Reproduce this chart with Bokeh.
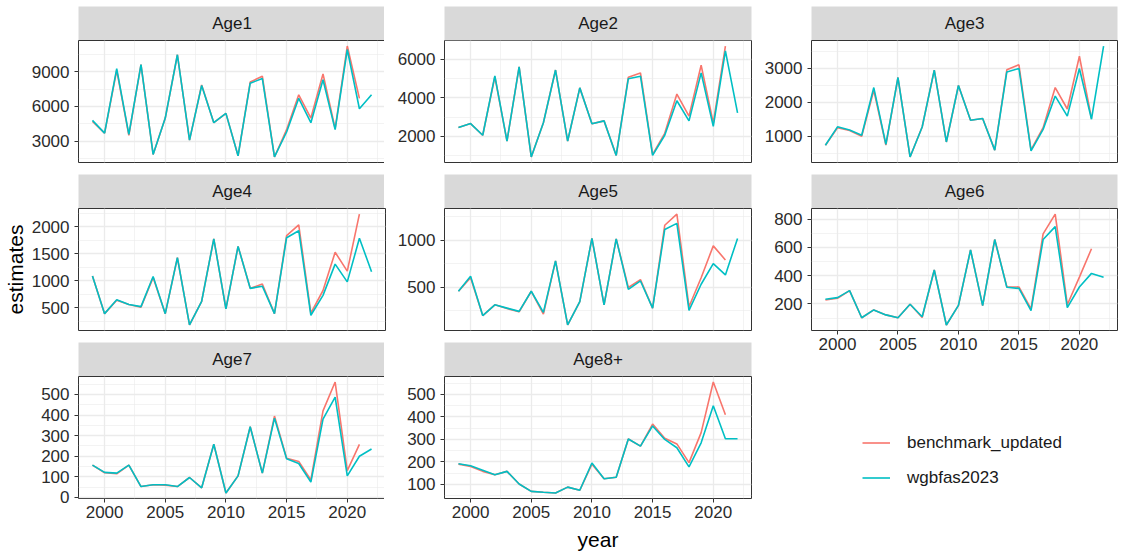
from bokeh.plotting import figure
from bokeh.models import Range1d, FixedTicker, Label, Legend, LegendItem, Spacer
from bokeh.layouts import column, row
from bokeh.embed import file_html
from bokeh.resources import INLINE

# ---------------- data ----------------
years = list(range(1999, 2023))
years_bm = years[:-1]

ages = ["Age1", "Age2", "Age3", "Age4", "Age5", "Age6", "Age7", "Age8+"]

wg_age1 = [4800, 3700, 9250, 3600, 9600, 1870, 5000, 10450, 3100, 7800, 4600, 5400, 1750, 8000, 8400, 1650, 3800, 6700, 4600, 8300, 4000, 10900, 5800, 7000]
bm_age1 = [4700, 3700, 9100, 3500, 9600, 1870, 5000, 10450, 3100, 7850, 4600, 5400, 1750, 8100, 8600, 1650, 4000, 7000, 5000, 8800, 4100, 11200, 6700]

wg_age2 = [2450, 2660, 2050, 5150, 1750, 5620, 920, 2700, 5450, 1750, 4520, 2650, 2800, 1000, 5000, 5130, 1000, 2050, 3850, 2800, 5300, 2520, 6450, 3220]
bm_age2 = [2450, 2660, 2050, 5100, 1750, 5620, 920, 2700, 5450, 1750, 4520, 2650, 2800, 1000, 5080, 5300, 1050, 2150, 4200, 3050, 5700, 2700, 6700]

wg_age3 = [735, 1275, 1180, 1030, 2430, 760, 2725, 390, 1270, 2940, 830, 2490, 1470, 1520, 590, 2890, 2990, 570, 1200, 2180, 1590, 2990, 1500, 3650]
bm_age3 = [735, 1250, 1170, 1000, 2350, 740, 2725, 390, 1270, 2940, 830, 2490, 1470, 1520, 590, 2950, 3100, 600, 1250, 2430, 1800, 3350, 1520]

wg_age4 = [1090, 390, 650, 560, 520, 1080, 390, 1430, 180, 620, 1780, 480, 1640, 860, 900, 390, 1800, 1930, 360, 730, 1310, 980, 1790, 1170]
bm_age4 = [1090, 390, 640, 560, 510, 1060, 390, 1430, 180, 620, 1780, 480, 1640, 860, 940, 390, 1840, 2040, 400, 820, 1530, 1180, 2240]

wg_age5 = [455, 615, 195, 310, 275, 240, 455, 230, 780, 95, 345, 1020, 310, 1015, 475, 565, 275, 1115, 1180, 250, 530, 750, 630, 1020]
bm_age5 = [455, 600, 195, 310, 270, 235, 455, 210, 780, 95, 345, 1020, 310, 1015, 495, 580, 275, 1160, 1280, 290, 600, 940, 790]

wg_age6 = [233, 245, 294, 103, 158, 123, 103, 198, 110, 440, 52, 190, 581, 188, 655, 318, 310, 153, 655, 746, 175, 320, 416, 388]
bm_age6 = [228, 240, 294, 103, 158, 123, 103, 198, 105, 440, 52, 190, 581, 188, 655, 322, 320, 165, 695, 835, 195, 390, 590]

wg_age7 = [157, 122, 118, 157, 53, 62, 62, 53, 97, 47, 258, 22, 105, 343, 118, 385, 188, 165, 75, 380, 487, 105, 200, 235]
bm_age7 = [157, 120, 115, 157, 53, 62, 60, 53, 97, 47, 258, 22, 105, 343, 118, 395, 190, 175, 85, 420, 560, 130, 258]

wg_age8 = [192, 183, 163, 143, 158, 102, 69, 65, 62, 88, 74, 195, 125, 132, 302, 270, 360, 300, 263, 178, 285, 450, 303, 303]
bm_age8 = [190, 180, 158, 143, 158, 102, 69, 65, 62, 88, 74, 190, 125, 132, 302, 270, 368, 305, 280, 197, 330, 555, 410]

wg_data = {"Age1": wg_age1, "Age2": wg_age2, "Age3": wg_age3, "Age4": wg_age4,
           "Age5": wg_age5, "Age6": wg_age6, "Age7": wg_age7, "Age8+": wg_age8}
bm_data = {"Age1": bm_age1, "Age2": bm_age2, "Age3": bm_age3, "Age4": bm_age4,
           "Age5": bm_age5, "Age6": bm_age6, "Age7": bm_age7, "Age8+": bm_age8}

x_ticks = [2000, 2005, 2010, 2015, 2020]
y_ticks = {
    "Age1": [3000, 6000, 9000],
    "Age2": [2000, 4000, 6000],
    "Age3": [1000, 2000, 3000],
    "Age4": [500, 1000, 1500, 2000],
    "Age5": [500, 1000],
    "Age6": [200, 400, 600, 800],
    "Age7": [0, 100, 200, 300, 400, 500],
    "Age8+": [100, 200, 300, 400, 500],
}

series_names = ["benchmark_updated", "wgbfas2023"]

# ---------------- style ----------------
RED = "#F8766D"
CYAN = "#00BFC4"
FONT = "Liberation Sans"
TICK_FS = "17px"
TITLE_FS = "21px"
GRID = "#EBEBEB"
LW = 1.6

col_geom = [(73, 307, 4), (55, 307, 4), (56, 306, 1)]   # left border, frame width, right border
row_geom = [(34, 122), (34, 122), (34, 122)]            # strip height, frame height
GAP = 12
TOP_PAD = 6


def minor_of(t):
    step = t[1] - t[0]
    return [t[0] - step / 2] + [v + step / 2 for v in t]


def make_strip(name, r, c):
    bl, fw, br = col_geom[c]
    sh, _ = row_geom[r]
    s = figure(title=None, frame_width=fw, frame_height=sh,
               x_range=Range1d(0, 1), y_range=Range1d(0, 1),
               x_axis_location=None, y_axis_location=None,
               min_border_left=bl, min_border_right=br,
               min_border_top=0, min_border_bottom=0,
               background_fill_color="#D9D9D9", border_fill_color="white",
               outline_line_color=None, toolbar_location=None,
               output_backend="svg")
    s.grid.visible = False
    s.add_layout(Label(x=0.5, y=0.5, text=name, text_align="center",
                       text_baseline="middle", text_font=FONT,
                       text_font_size=TICK_FS, text_color="#1A1A1A"))
    return s


def make_panel(name, r, c, show_x=False, xlabel=None, ylabel=None, bottom=GAP):
    bl, fw, br = col_geom[c]
    _, fh = row_geom[r]
    wg = wg_data[name]
    bm = bm_data[name]
    allv = wg + bm
    lo, hi = min(allv), max(allv)
    pad = 0.05 * (hi - lo)
    xlo, xhi = years[0], years[-1]
    xpad = 0.05 * (xhi - xlo)
    p = figure(title=None, frame_width=fw, frame_height=fh,
               x_range=Range1d(xlo - xpad, xhi + xpad),
               y_range=Range1d(lo - pad, hi + pad),
               x_axis_location="below" if show_x else None,
               min_border_left=bl, min_border_right=br,
               min_border_top=0, min_border_bottom=bottom,
               background_fill_color="white", border_fill_color="white",
               outline_line_color="#333333", outline_line_width=1,
               toolbar_location=None, output_backend="svg")
    xt = FixedTicker(ticks=x_ticks, minor_ticks=minor_of(x_ticks))
    yt = FixedTicker(ticks=y_ticks[name], minor_ticks=minor_of(y_ticks[name]))
    p.xgrid.ticker = xt
    p.ygrid.ticker = yt
    for g in (p.xgrid, p.ygrid):
        g.grid_line_color = GRID
        g.grid_line_width = 1.3
        g.minor_grid_line_color = GRID
        g.minor_grid_line_width = 0.6
    for ax in p.yaxis:
        ax.ticker = yt
    for ax in p.xaxis:
        ax.ticker = xt
    for ax in list(p.xaxis) + list(p.yaxis):
        ax.axis_line_color = None
        ax.major_tick_line_color = "#333333"
        ax.major_tick_in = 0
        ax.major_tick_out = 4
        ax.minor_tick_line_color = None
        ax.major_label_text_font = FONT
        ax.major_label_text_font_size = TICK_FS
        ax.major_label_text_color = "#2B2B2B"
        ax.axis_label_text_font = FONT
        ax.axis_label_text_font_size = TITLE_FS
        ax.axis_label_text_font_style = "normal"
        ax.axis_label_text_color = "black"
    for ax in p.yaxis:
        ax.major_label_standoff = 5
        ax.axis_label_standoff = 2
        if ylabel:
            ax.axis_label = ylabel
    for ax in p.xaxis:
        ax.major_label_standoff = 3
        ax.axis_label_standoff = 7
        if xlabel:
            ax.axis_label = xlabel
    p.line(years_bm, bm, line_color=RED, line_width=LW)
    p.line(years, wg, line_color=CYAN, line_width=LW)
    return p


def make_legend_block():
    bl, fw, br = col_geom[2]
    total_w = bl + fw + br
    off_x, off_y = 107, 65
    lw_ = total_w - off_x
    # legend-only plot: the data lines lie outside its view, only the legend shows
    lg = figure(title=None, frame_width=lw_, frame_height=80,
                x_range=Range1d(0, 1), y_range=Range1d(0, 1),
                x_axis_location=None, y_axis_location=None,
                min_border=0, outline_line_color=None,
                background_fill_color="white", border_fill_color="white",
                toolbar_location=None, output_backend="svg")
    lg.grid.visible = False
    r1 = lg.line(years_bm, bm_age1, line_color=RED, line_width=LW)
    r2 = lg.line(years, wg_age1, line_color=CYAN, line_width=LW)
    leg = Legend(items=[LegendItem(label=series_names[0], renderers=[r1]),
                        LegendItem(label=series_names[1], renderers=[r2])],
                 location="top_left", orientation="vertical",
                 glyph_width=28, glyph_height=35, spacing=0, padding=0, margin=0,
                 label_standoff=17, label_text_font=FONT, label_text_font_size=TICK_FS,
                 label_text_color="#1A1A1A", border_line_color=None,
                 background_fill_alpha=0)
    lg.add_layout(leg)
    return row(Spacer(width=off_x, height=off_y + 80),
               column(Spacer(width=lw_, height=off_y), lg))


col1 = column(make_strip("Age1", 0, 0), make_panel("Age1", 0, 0),
              make_strip("Age4", 1, 0), make_panel("Age4", 1, 0, ylabel="estimates"),
              make_strip("Age7", 2, 0), make_panel("Age7", 2, 0, show_x=True, bottom=0))
col2 = column(make_strip("Age2", 0, 1), make_panel("Age2", 0, 1),
              make_strip("Age5", 1, 1), make_panel("Age5", 1, 1),
              make_strip("Age8+", 2, 1), make_panel("Age8+", 2, 1, show_x=True, xlabel="year", bottom=0))
col3 = column(make_strip("Age3", 0, 2), make_panel("Age3", 0, 2),
              make_strip("Age6", 1, 2), make_panel("Age6", 1, 2, show_x=True, bottom=30),
              make_legend_block())

layout = column(Spacer(width=10, height=TOP_PAD), row(col1, col2, col3))

open("out.html", "w").write(file_html(layout, INLINE))
